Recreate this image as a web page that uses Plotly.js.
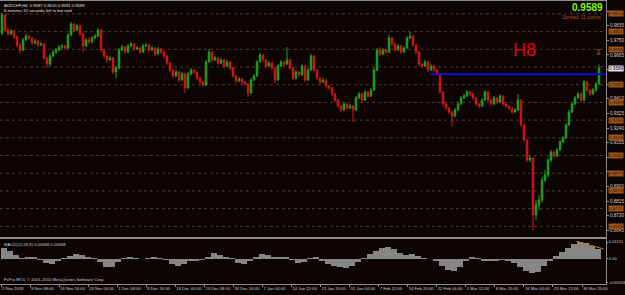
<!DOCTYPE html>
<html><head><meta charset="utf-8">
<script src="https://cdn.plot.ly/plotly-3.0.1.min.js"></script>
<style>html,body{margin:0;padding:0;background:#0d0404;}#chart{width:625px;height:295px;}</style>
</head><body><div id="chart"></div>
<script>
// ---- Data (AUDCHF H4) ----
const firstOpen = 0.9793;
const closes = [
0.9898,0.9810,0.9787,0.9805,0.9770,0.9723,0.9694,0.9752,0.9775,0.9764,
0.9735,0.9746,0.9723,0.9729,0.9647,0.9612,0.9659,0.9682,0.9694,0.9711,
0.9717,0.9706,0.9781,0.9845,0.9810,0.9834,0.9787,0.9717,0.9752,0.9741,
0.9764,0.9775,0.9810,0.9694,0.9659,0.9636,0.9647,0.9566,0.9589,0.9694,
0.9711,0.9682,0.9717,0.9729,0.9700,0.9706,0.9682,0.9717,0.9723,0.9694,
0.9706,0.9671,0.9700,0.9682,0.9659,0.9618,0.9578,0.9543,0.9566,0.9519,
0.9554,0.9473,0.9554,0.9578,0.9566,0.9531,0.9508,0.9490,0.9624,0.9682,
0.9636,0.9647,0.9618,0.9636,0.9601,0.9624,0.9589,0.9543,0.9514,0.9525,
0.9508,0.9496,0.9444,0.9519,0.9543,0.9624,0.9665,0.9636,0.9601,0.9618,
0.9589,0.9519,0.9601,0.9624,0.9612,0.9636,0.9589,0.9531,0.9566,0.9549,
0.9601,0.9519,0.9578,0.9659,0.9578,0.9531,0.9508,0.9519,0.9485,0.9473,
0.9438,0.9403,0.9368,0.9345,0.9380,0.9356,0.9368,0.9345,0.9415,0.9438,
0.9403,0.9450,0.9426,0.9461,0.9578,0.9694,0.9671,0.9694,0.9682,0.9764,
0.9729,0.9694,0.9717,0.9682,0.9706,0.9764,0.9775,0.9723,0.9682,0.9612,
0.9601,0.9624,0.9578,0.9601,0.9578,0.9554,0.9450,0.9380,0.9356,0.9333,
0.9310,0.9345,0.9380,0.9415,0.9426,0.9450,0.9438,0.9415,0.9380,0.9368,
0.9403,0.9450,0.9403,0.9380,0.9415,0.9391,0.9426,0.9380,0.9368,0.9356,
0.9333,0.9345,0.9403,0.9258,0.9170,0.9054,0.9065,0.8734,0.8792,0.8821,
0.8937,0.8967,0.9054,0.9100,0.9077,0.9112,0.9159,0.9182,0.9258,0.9333,
0.9380,0.9415,0.9438,0.9403,0.9508,0.9461,0.9438,0.9461,0.9496,0.9589];
const highs = [
0.9909,0.9904,0.9822,0.9816,0.9810,0.9781,0.9735,0.9764,0.9787,0.9781,
0.9770,0.9758,0.9752,0.9741,0.9735,0.9653,0.9671,0.9694,0.9706,0.9723,
0.9729,0.9723,0.9793,0.9857,0.9851,0.9845,0.9840,0.9793,0.9764,0.9770,
0.9775,0.9787,0.9822,0.9816,0.9700,0.9665,0.9659,0.9653,0.9601,0.9706,
0.9723,0.9717,0.9729,0.9741,0.9735,0.9717,0.9711,0.9729,0.9735,0.9729,
0.9717,0.9711,0.9711,0.9706,0.9688,0.9665,0.9624,0.9583,0.9578,0.9572,
0.9566,0.9560,0.9566,0.9589,0.9583,0.9572,0.9537,0.9514,0.9636,0.9700,
0.9688,0.9659,0.9653,0.9647,0.9642,0.9636,0.9630,0.9595,0.9549,0.9537,
0.9531,0.9514,0.9502,0.9531,0.9554,0.9636,0.9677,0.9671,0.9642,0.9630,
0.9624,0.9595,0.9612,0.9636,0.9630,0.9711,0.9642,0.9595,0.9578,0.9572,
0.9612,0.9607,0.9589,0.9671,0.9665,0.9583,0.9537,0.9531,0.9525,0.9490,
0.9479,0.9444,0.9409,0.9374,0.9391,0.9386,0.9380,0.9374,0.9426,0.9450,
0.9444,0.9461,0.9455,0.9473,0.9589,0.9706,0.9711,0.9706,0.9700,0.9781,
0.9770,0.9735,0.9729,0.9723,0.9717,0.9775,0.9799,0.9781,0.9729,0.9688,
0.9618,0.9636,0.9630,0.9612,0.9607,0.9583,0.9560,0.9455,0.9386,0.9362,
0.9339,0.9356,0.9391,0.9426,0.9438,0.9461,0.9455,0.9444,0.9420,0.9386,
0.9415,0.9461,0.9455,0.9409,0.9426,0.9420,0.9438,0.9432,0.9386,0.9374,
0.9362,0.9356,0.9438,0.9409,0.9264,0.9176,0.9083,0.9071,0.8821,0.8850,
0.8955,0.8996,0.9065,0.9112,0.9106,0.9124,0.9170,0.9194,0.9269,0.9345,
0.9391,0.9426,0.9450,0.9444,0.9519,0.9514,0.9467,0.9473,0.9508,0.9610];
const lows = [
0.9781,0.9799,0.9775,0.9781,0.9758,0.9711,0.9677,0.9688,0.9746,0.9752,
0.9723,0.9729,0.9711,0.9717,0.9636,0.9589,0.9601,0.9653,0.9671,0.9688,
0.9700,0.9694,0.9700,0.9775,0.9799,0.9805,0.9775,0.9682,0.9711,0.9729,
0.9735,0.9758,0.9770,0.9682,0.9647,0.9618,0.9630,0.9554,0.9531,0.9583,
0.9688,0.9671,0.9677,0.9711,0.9688,0.9694,0.9671,0.9677,0.9711,0.9682,
0.9688,0.9659,0.9665,0.9671,0.9647,0.9607,0.9566,0.9531,0.9537,0.9508,
0.9514,0.9444,0.9467,0.9549,0.9554,0.9519,0.9496,0.9479,0.9485,0.9618,
0.9624,0.9630,0.9607,0.9612,0.9589,0.9595,0.9578,0.9531,0.9502,0.9508,
0.9496,0.9485,0.9420,0.9438,0.9514,0.9537,0.9618,0.9624,0.9589,0.9595,
0.9578,0.9502,0.9514,0.9595,0.9601,0.9607,0.9578,0.9519,0.9525,0.9537,
0.9543,0.9508,0.9514,0.9572,0.9566,0.9519,0.9496,0.9502,0.9473,0.9461,
0.9426,0.9391,0.9356,0.9333,0.9339,0.9345,0.9351,0.9275,0.9339,0.9409,
0.9391,0.9397,0.9415,0.9420,0.9455,0.9572,0.9659,0.9665,0.9671,0.9677,
0.9717,0.9682,0.9688,0.9671,0.9677,0.9700,0.9758,0.9711,0.9671,0.9601,
0.9589,0.9595,0.9566,0.9572,0.9566,0.9543,0.9438,0.9368,0.9345,0.9322,
0.9246,0.9304,0.9339,0.9374,0.9409,0.9420,0.9426,0.9403,0.9368,0.9356,
0.9362,0.9397,0.9391,0.9368,0.9374,0.9380,0.9386,0.9368,0.9356,0.9345,
0.9322,0.9327,0.9339,0.9246,0.9159,0.9042,0.9042,0.8646,0.8705,0.8763,
0.8809,0.8926,0.8955,0.9042,0.9065,0.9071,0.9106,0.9153,0.9176,0.9252,
0.9327,0.9374,0.9409,0.9391,0.9397,0.9450,0.9426,0.9432,0.9450,0.9490];

// MACD histogram (one value per 2 bars)
const macdHist = [
0.00745,0.00542,0.00271,0.00068,0.00102,0.00102,-0.00068,-0.00271,-0.00339,-0.00135,
0.00034,0.00203,0.00372,0.00271,0.00135,0.00068,-0.00203,-0.00542,-0.00542,-0.00203,
0.00034,0.00102,0.00068,-0.00034,0.00034,0.00102,0.00068,-0.00068,-0.00339,-0.00474,
-0.00339,-0.00135,-0.00102,-0.00068,0.00135,0.00406,0.00271,0.00102,0.00034,-0.00271,
-0.00339,-0.00135,0.00135,0.00339,0.00271,0.00135,0.00169,0.00169,-0.00068,-0.00271,
-0.00203,0.00034,0.00102,-0.00135,-0.00339,-0.00474,-0.00575,-0.00609,-0.00474,-0.00203,
0.00068,0.00339,0.00575,0.00745,0.00779,0.00677,0.00406,0.00271,0.00305,0.00203,
0.00068,0.00000,-0.00135,-0.00474,-0.00745,-0.00812,-0.00542,-0.00135,0.00102,0.00068,
-0.00102,-0.00135,-0.00102,-0.00068,-0.00135,-0.00271,-0.00542,-0.00812,-0.00982,-0.00880,
-0.00474,-0.00135,0.00203,0.00474,0.00745,0.01016,0.01151,0.01050,0.00880,0.00658];
const macdTrendX = [191.5, 200.5];
const macdTrendY = [0.0120, 0.0068];

const priceTicks = [0.9920,0.9835,0.9750,0.9665,0.9580,0.9495,0.9410,0.9325,0.9240,0.9155,0.9070,0.8985,0.8900,0.8815,0.8730,0.8645];
const gridLevels = [0.9904,0.9801,0.9698,0.9595,0.9492,0.9389,0.9286,0.9183,0.9080,0.8977,0.8874,0.8771,0.8668];
const macdTicks = [0.01151, 0, -0.01624];
const macdTickText = ["0.01151","0.00","-0.01624"];
const timeLabels = ["2 Nov 2018","9 Nov 08:00","16 Nov 16:00","24 Nov 00:00","1 Dec 08:00","8 Dec 16:00","16 Dec 00:00","23 Dec 08:00","30 Dec 16:00","7 Jan 04:00","14 Jan 12:00","21 Jan 20:00","31 Jan 04:00","7 Feb 12:00","14 Feb 20:00","22 Feb 04:00","1 Mar 12:00","8 Mar 20:00","16 Mar 04:00","23 Mar 12:00","30 Mar 20:00"];
const currentPrice = 0.9589;
const levelH8 = 0.9553;
const levelStartBar = 142.7;

// ---- Build ----
const FONT = "Liberation Sans, Arial, sans-serif";
const N = closes.length;
const idx = closes.map((_, i) => i);
const opens = [firstOpen].concat(closes.slice(0, N - 1));
const LABEL_BARS = 9.683;
const timeTickVals = timeLabels.map((_, k) => k * LABEL_BARS - 0.33);
const macdX = macdHist.map((_, j) => j * 2 + 0.5);
const XR = [-0.667, 201.33];
// axis labels hidden behind an orange level box are drawn with empty text
const priceTickText = priceTicks.map(v =>
  gridLevels.some(g => Math.abs(g - v) < 0.0018 && Math.abs(g - currentPrice) > 0.002) ? '' : v.toFixed(4));

const traces = [
  {type:'candlestick', x: idx, open: opens, high: highs, low: lows, close: closes,
   xaxis:'x', yaxis:'y', hoverinfo:'skip', whiskerwidth:0,
   increasing:{line:{color:'#1aa51a', width:1}, fillcolor:'#1aa51a'},
   decreasing:{line:{color:'#d41515', width:1}, fillcolor:'#d41515'}},
  {type:'bar', x: macdX, y: macdHist, width: 2, xaxis:'x2', yaxis:'y2',
   marker:{color:'#868686', line:{width:0}}, hoverinfo:'skip'},
  {type:'scatter', mode:'lines', x: macdTrendX, y: macdTrendY, xaxis:'x2', yaxis:'y2',
   line:{color:'#d2781e', width:1}, hoverinfo:'skip'}
];

const shapes = gridLevels.map(v => ({type:'line', xref:'paper', x0:0, x1:1, yref:'y', y0:v, y1:v,
  line:{color:'#4e3a2c', width:1, dash:'dot'}, layer:'below'}));
shapes.push({type:'line', xref:'x', x0:levelStartBar, x1:XR[1], yref:'y', y0:levelH8, y1:levelH8,
  line:{color:'#0a12c8', width:2}});

const annotations = [];
gridLevels.forEach(v => {
  if (Math.abs(v - currentPrice) < 0.002) return;
  annotations.push({xref:'paper', x:1.003, xanchor:'left', yref:'y', y:v, yanchor:'middle',
    text:v.toFixed(4), showarrow:false, bgcolor:'#9a5418', borderpad:0,
    font:{family:FONT, size:4.4, color:'#3a1804'}});
});
annotations.push({xref:'paper', x:1.003, xanchor:'left', yref:'y', y:currentPrice, yanchor:'middle',
  text:currentPrice.toFixed(4), showarrow:false, bgcolor:'#e8e8e8', borderpad:0,
  font:{family:FONT, size:4.6, color:'#000000'}});
annotations.push({xref:'paper', x:0.003, xanchor:'left', yref:'paper', y:0.983, yanchor:'middle',
  text:'AUDCHF,H4  0.9587 0.9610 0.9581 0.9589', showarrow:false,
  font:{family:FONT, size:4.2, color:'#e0e0e0'}});
annotations.push({xref:'paper', x:0.003, xanchor:'left', yref:'paper', y:0.966, yanchor:'middle',
  text:'6 minutes 32 seconds left to bar end', showarrow:false,
  font:{family:FONT, size:4.2, color:'#e0e0e0'}});
annotations.push({xref:'paper', x:0.998, xanchor:'right', yref:'paper', y:0.974, yanchor:'middle',
  text:'<b>' + currentPrice.toFixed(4) + '</b>', showarrow:false,
  font:{family:FONT, size:10, color:'#7cfc00'}});
annotations.push({xref:'paper', x:0.995, xanchor:'right', yref:'paper', y:0.944, yanchor:'middle',
  text:'Spread: 11 points', showarrow:false,
  font:{family:FONT, size:5, color:'#a4561e'}});
annotations.push({xref:'paper', x:0.8663, xanchor:'center', yref:'paper', y:0.8305, yanchor:'middle',
  text:'H8', showarrow:false, font:{family:FONT, size:18, color:'#e00000'}});
annotations.push({xref:'paper', x:0.9884, xanchor:'center', yref:'paper', y:0.8237, yanchor:'middle',
  text:'⇩', showarrow:false, font:{family:'DejaVu Sans', size:8, color:'#d8861e'}});
annotations.push({xref:'paper', x:0.003, xanchor:'left', yref:'paper', y:0.1712, yanchor:'middle',
  text:'MACD(12,26,9) 0.00658 0.00658', showarrow:false,
  font:{family:FONT, size:4.2, color:'#d0d0d0'}});
annotations.push({xref:'paper', x:0.003, xanchor:'left', yref:'paper', y:0.054, yanchor:'middle',
  text:'FxPro MT4, © 2001-2010 MetaQuotes Software Corp.', showarrow:false,
  font:{family:FONT, size:4.2, color:'#c8c8c8'}});

const axLine = '#8c8c8c';
const layout = {
  width:625, height:295, margin:{l:0, r:19, t:0, b:0, pad:0},
  paper_bgcolor:'#0d0404', plot_bgcolor:'#0d0404', showlegend:false,
  bargap:0, boxgap:0.3,
  xaxis:{domain:[0,1], range:XR, anchor:'y', showticklabels:false, ticks:'', showgrid:false,
    zeroline:false, showline:true, mirror:true, linecolor:axLine, linewidth:1,
    rangeslider:{visible:false}, fixedrange:true},
  yaxis:{domain:[0.1966,0.9966], range:[0.8606,0.9979], side:'right',
    tickvals:priceTicks, ticktext:priceTickText,
    ticks:'outside', ticklen:2, tickcolor:axLine, showgrid:false, zeroline:false,
    showline:true, mirror:true, linecolor:axLine, linewidth:1,
    tickfont:{family:FONT, size:4.6, color:'#cfcfcf'}, fixedrange:true},
  xaxis2:{domain:[0,1], range:XR, anchor:'y2', tickvals:timeTickVals, ticktext:timeLabels,
    tickangle:0, ticks:'outside', ticklen:2, tickcolor:axLine, ticklabelposition:'outside right',
    showgrid:false, zeroline:false, showline:true, mirror:true, linecolor:axLine, linewidth:1,
    tickfont:{family:FONT, size:4.2, color:'#cfcfcf'}, fixedrange:true},
  yaxis2:{domain:[0.0373,0.1898], range:[-0.01693,0.01354], side:'right',
    tickvals:macdTicks, ticktext:macdTickText, ticks:'outside', ticklen:1, tickcolor:axLine,
    showgrid:false, zeroline:false, showline:true, mirror:true, linecolor:axLine, linewidth:1,
    tickfont:{family:FONT, size:4.1, color:'#cfcfcf'}, fixedrange:true},
  shapes: shapes,
  annotations: annotations
};

Plotly.newPlot('chart', traces, layout, {staticPlot:true, displayModeBar:false});
</script>
</body></html>
